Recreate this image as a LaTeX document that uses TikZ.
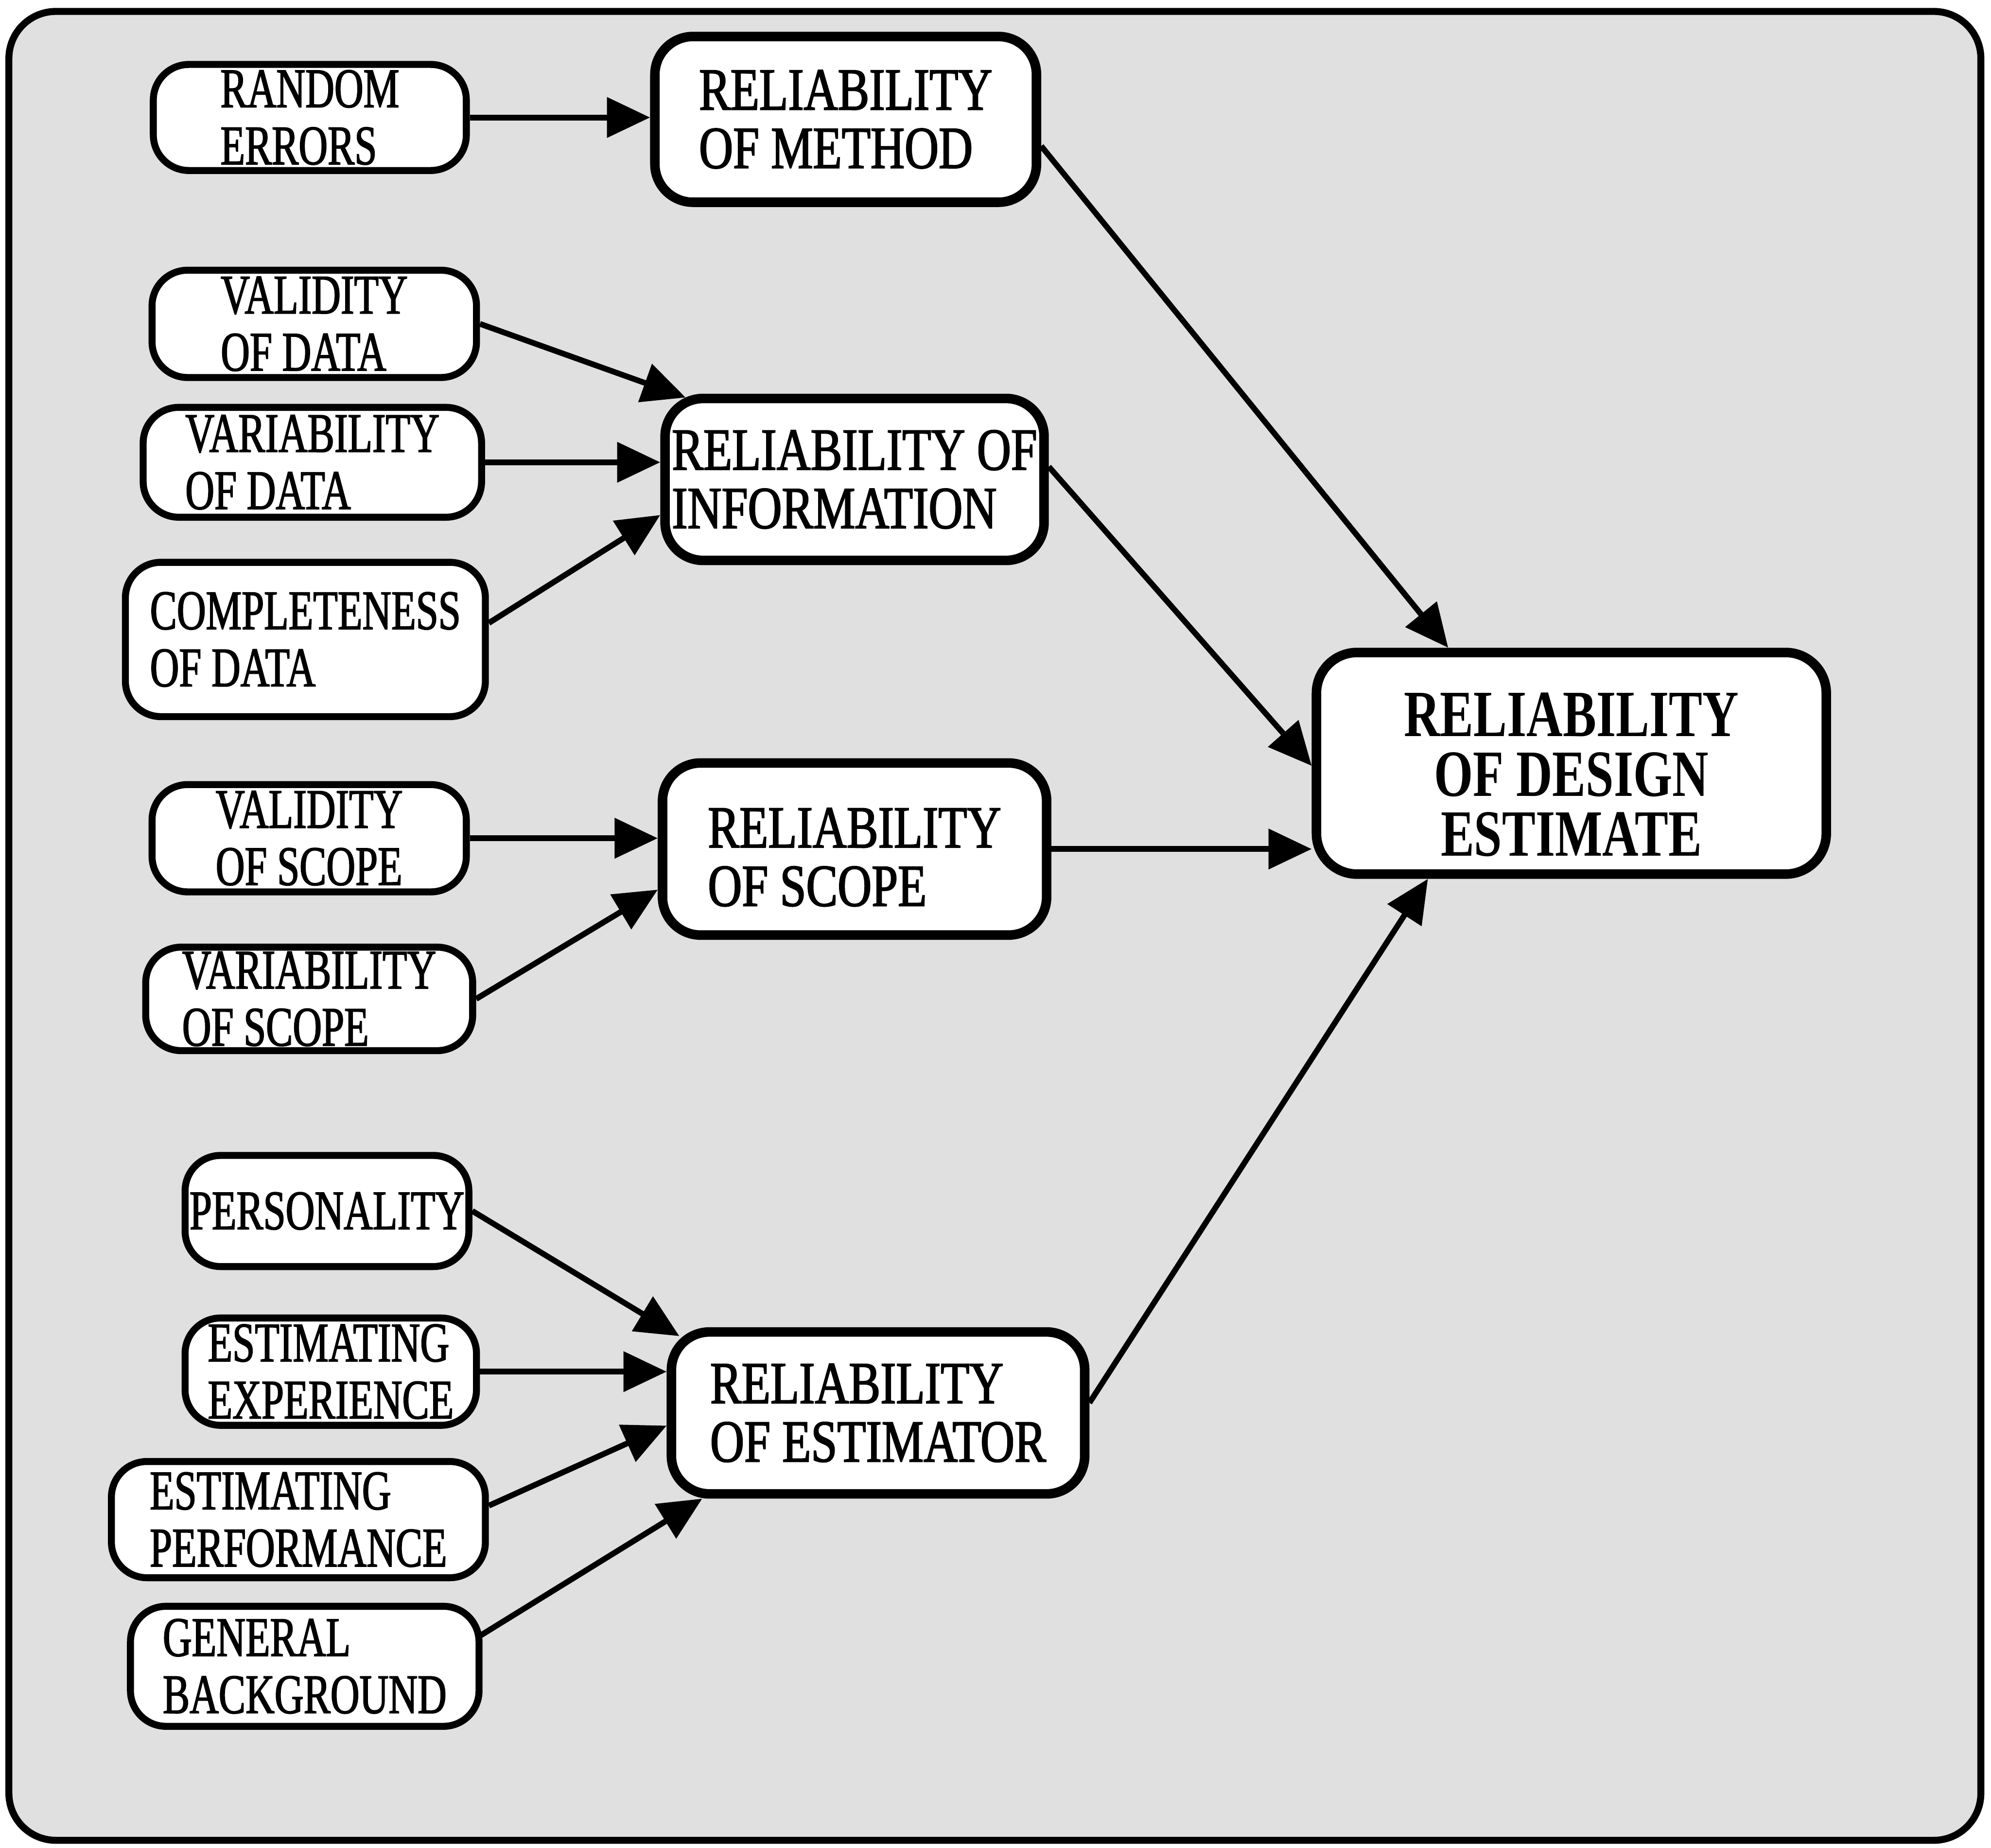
\documentclass[tikz,border=0pt]{standalone}
\usepackage{fontspec}
\setmainfont{Liberation Serif}
\newfontfamily\leaffont[FakeStretch=0.72,FakeBold=1.6]{Liberation Serif}
\newfontfamily\midfont[FakeStretch=0.79,FakeBold=1.8]{Liberation Serif}
\newfontfamily\goalfont[FakeStretch=0.76]{Liberation Serif}
\usetikzlibrary{arrows.meta,calc}

\begin{document}
\begin{tikzpicture}[x=1pt,y=-1pt,
  leaf/.style={draw, line width=5.5pt, fill=white, rounded corners=28pt,
    align=left, inner sep=0pt,
    font=\leaffont\fontsize{44}{45}\selectfont},
  midbox/.style={draw, line width=7.5pt, fill=white, rounded corners=30pt,
    align=left, inner sep=0pt,
    font=\midfont\fontsize{47}{46}\selectfont},
  goal/.style={draw, line width=7.5pt, fill=white, rounded corners=32pt,
    align=center, inner sep=0pt,
    font=\goalfont\bfseries\fontsize{52}{47}\selectfont},
  link/.style={line width=4.5pt, -{Triangle[length=34pt,width=31pt]}}]

% page and screened frame
\useasboundingbox (0,0) rectangle (1568,1455);
\fill[white] (0,0) rectangle (1568,1455);
\draw[line width=5.5pt, rounded corners=37pt, fill=black!12] (7,9) rectangle (1560,1449);

% factors feeding the reliability of the method
\node[leaf, minimum width=246.5pt, minimum height=83.5pt] (rnd) at (244,92.5) {RANDOM\\ERRORS};
\node[midbox, minimum width=300.5pt, minimum height=130.5pt] (meth) at (666,94) {RELIABILITY\\OF METHOD};

% factors feeding the reliability of information
\node[leaf, minimum width=255.5pt, minimum height=84.5pt] (vdata) at (247.5,255) {VALIDITY\\OF DATA};
\node[leaf, minimum width=266.5pt, minimum height=86.5pt] (vardata) at (246,364) {VARIABILITY\\OF DATA};
\node[leaf, minimum width=283.5pt, minimum height=121.5pt] (compl) at (240.5,503.5) {COMPLETENESS\\OF DATA};
\node[midbox, minimum width=298.5pt, minimum height=127.5pt] (info) at (673,377.5) {RELIABILITY OF\\INFORMATION};

% factors feeding the reliability of scope
\node[leaf, minimum width=247.5pt, minimum height=84.5pt] (vscope) at (243.5,660) {VALIDITY\\OF SCOPE};
\node[leaf, minimum width=257.5pt, minimum height=81.5pt] (varscope) at (243.5,786.5) {VARIABILITY\\OF SCOPE};
\node[midbox, minimum width=302.5pt, minimum height=135.5pt] (scope) at (673,668.5) {\rule{0pt}{44pt}RELIABILITY\\OF SCOPE};

% factors feeding the reliability of the estimator
\node[leaf, minimum width=223.5pt, minimum height=87.5pt] (pers) at (257.5,953.5) {PERSONALITY};
\node[leaf, minimum width=229.5pt, minimum height=84.5pt] (exper) at (260.5,1080) {ESTIMATING\\EXPERIENCE};
\node[leaf, minimum width=294.5pt, minimum height=91.5pt] (perf) at (235,1196.5) {ESTIMATING\\PERFORMANCE};
\node[leaf, minimum width=274.5pt, minimum height=94.5pt] (gen) at (240,1312) {GENERAL\\BACKGROUND};
\node[midbox, minimum width=325.5pt, minimum height=127.5pt] (estor) at (691.5,1112.5) {RELIABILITY\\OF ESTIMATOR};

% overall result
\node[goal, minimum width=401.5pt, minimum height=174.5pt] (design) at (1237.5,601) {\rule{0pt}{52pt}RELIABILITY\\OF DESIGN\\ESTIMATE};

% connectors
\draw[link] (rnd.east) -- (rnd.east -| meth.west);

\draw[link] (vdata.east) -- ($(info.north west)+(20,3)$);
\draw[link] (vardata.east) -- (vardata.east -| info.west);
\draw[link] ($(compl.east)+(0,-13)$) -- ($(info.west)+(0,28)$);

\draw[link] (vscope.east) -- (vscope.east -| scope.west);
\draw[link] (varscope.east) -- ($(scope.west)+(0,32)$);

\draw[link] (pers.east) -- ($(estor.north west)+(10,7)$);
\draw[link] (exper.east) -- (exper.east -| estor.west);
\draw[link] ($(perf.east)+(0,-11)$) -- ($(estor.west)+(0,10)$);
\draw[link] ($(gen.east)+(-2,-24)$) -- ($(estor.south west)+(28,0)$);

\draw[link] ($(meth.east)+(0,21)$) -- ($(design.north)+(-97,0)$);
\draw[link] ($(info.east)+(0,-10)$) -- ($(design.west)+(0,2)$);
\draw[link] (scope.east) -- (scope.east -| design.west);
\draw[link] ($(estor.east)+(0,-8)$) -- ($(design.south)+(-113,0)$);
\end{tikzpicture}
\end{document}
